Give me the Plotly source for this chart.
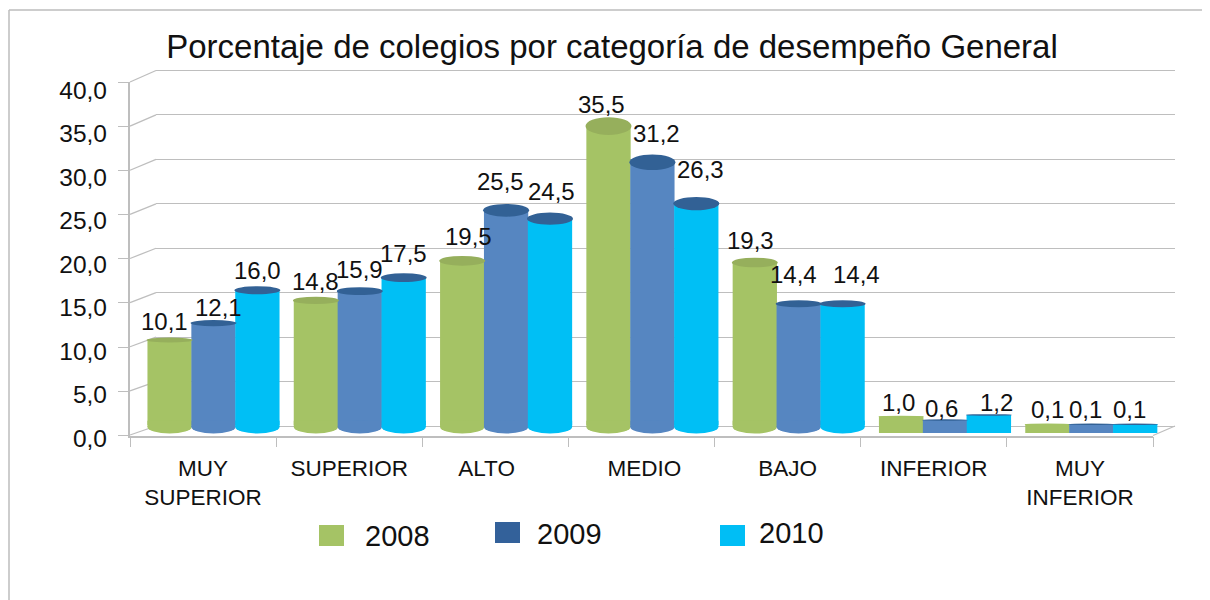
import plotly.graph_objects as go

# --- data ---
CATEGORIES = ["MUY<br>SUPERIOR", "SUPERIOR", "ALTO", "MEDIO", "BAJO", "INFERIOR", "MUY<br>INFERIOR"]
SERIES = ["2008", "2009", "2010"]
V2008 = [10.1, 14.8, 19.5, 35.5, 19.3, 1.0, 0.1]
V2009 = [12.1, 15.9, 25.5, 31.2, 14.4, 0.6, 0.1]
V2010 = [16.0, 17.5, 24.5, 26.3, 14.4, 1.2, 0.1]
Y_TICKS = [0, 5, 10, 15, 20, 25, 30, 35, 40]

# --- styling / layout ---
PAGE_MARGIN = 8          # the browser's default body margin
W, H = 1210 - PAGE_MARGIN, 600 - PAGE_MARGIN
FONT = "Liberation Sans"
INK = "#111111"
GRID = "#BEBEBE"
BODY = ["#A5C365", "#5686C1", "#00BFF5"]
TOP = ["#96AF5C", "#326195", "#326195"]
SWATCH = ["#A5C365", "#33619A", "#00BEF5"]
LEG_BOX = [(319, 525), (495, 522), (720, 525)]
LEG_TXT = [(397, 536), (569, 534), (791, 533)]
LABEL_DX = [[-5, 5, 0], [0, 0, 0], [6, -6, 2], [-7, 4, 4], [-4, -5, 14], [-3, -4, 8], [0, -6, -6]]
LABEL_DY = [[18, 16, 20], [19, 22, 24], [24, 29, 27], [22, 29, 34], [22, 29, 29], [14, 11, 12], [15, 15, 15]]
LABEL_NUDGE = [0, 0, -0.06, 0.02, 0, 0, 0]

def px(x): return (x - PAGE_MARGIN) / W
def py(y): return 1 - (y - PAGE_MARGIN) / H

# bars' coordinate system (full page, linear)
PX_PER_UNIT = 8.42
ZERO_PX = 425
CAT_STEP = 146.3
FIRST_CENTER = 213.5
BAR_STEP = 0.3
BAR_W = 44.3 / CAT_STEP
CAP_W = 46 / CAT_STEP

fig = go.Figure()
shapes, annotations = [], []
values = [V2008, V2009, V2010]

# invisible anchors so each helper axis pair is drawn
for xa, ya in [("x", "y"), ("x2", "y2"), ("x4", "y4")]:
    fig.add_trace(go.Scatter(x=[0], y=[0], xaxis=xa, yaxis=ya, mode="markers",
                             marker=dict(opacity=0), showlegend=False, hoverinfo="skip"))

for s, vals in enumerate(values):
    fig.add_trace(go.Bar(
        x=[i + (s - 1) * BAR_STEP for i in range(len(vals))], y=vals, width=BAR_W,
        name=SERIES[s], marker=dict(color=BODY[s], line=dict(width=0)),
        xaxis="x3", yaxis="y3", showlegend=False,
    ))

for s, vals in enumerate(values):
    for i, v in enumerate(vals):
        cx = i + (s - 1) * BAR_STEP
        if v >= 5:
            shapes.append(dict(type="circle", xref="x3", yref="y3", layer="above",
                               x0=cx - BAR_W / 2, x1=cx + BAR_W / 2,
                               y0=-0.24 - 6.5 / PX_PER_UNIT, y1=-0.24 + 6.5 / PX_PER_UNIT,
                               fillcolor=BODY[s], line=dict(width=0)))
            shapes.append(dict(type="rect", xref="x3", yref="y3", layer="above",
                               x0=cx - BAR_W / 2, x1=cx + BAR_W / 2, y0=-0.24, y1=0.5,
                               fillcolor=BODY[s], line=dict(width=0)))
        else:
            shapes.append(dict(type="rect", xref="x3", yref="y3", layer="above",
                               x0=cx - BAR_W / 2, x1=cx + BAR_W / 2, y0=-8 / PX_PER_UNIT, y1=v,
                               fillcolor=BODY[s], line=dict(width=0)))
for s, vals in enumerate(values):
    for i, v in enumerate(vals):
        cx = i + (s - 1) * BAR_STEP
        h = max(0.5 * v, 1.5) / PX_PER_UNIT
        shapes.append(dict(type="circle", xref="x3", yref="y3", layer="above",
                           x0=cx - CAP_W / 2, x1=cx + CAP_W / 2, y0=v - h / 2, y1=v + h / 2,
                           fillcolor=TOP[s] if v >= 2 or s else BODY[s], line=dict(width=0)))
        annotations.append(dict(
            x=cx, y=v, xref="x3", yref="y3", xshift=LABEL_DX[i][s], yshift=LABEL_DY[i][s],
            text=f"{v:.1f}".replace(".", ","), showarrow=False,
            font=dict(family=FONT, size=24, color=INK)))

# perspective connectors between front axis and back wall
FRONT_Y = lambda t: 435 - (435 - 82) * t / 40
BACK_Y = lambda t: 426 - (426 - 70.5) * t / 40
for t in Y_TICKS:
    shapes.append(dict(type="line", xref="paper", yref="paper", layer="below",
                       x0=px(130), x1=px(156), y0=py(FRONT_Y(t)), y1=py(BACK_Y(t)),
                       line=dict(color=GRID, width=1.3)))
shapes.append(dict(type="line", xref="paper", yref="paper", layer="below",
                   x0=px(1153), x1=px(1175), y0=py(435.5), y1=py(426),
                   line=dict(color=GRID, width=1.3)))

# page frame
shapes.append(dict(type="line", xref="paper", yref="paper", x0=px(9), x1=1, y0=py(10), y1=py(10),
                   line=dict(color="#BDBDBD", width=1.5)))
shapes.append(dict(type="line", xref="paper", yref="paper", x0=px(9), x1=px(9), y0=py(10), y1=0,
                   line=dict(color="#BDBDBD", width=1.5)))

# legend
for k, name in enumerate(SERIES):
    x0, y0 = LEG_BOX[k]
    shapes.append(dict(type="rect", xref="paper", yref="paper", x0=px(x0), x1=px(x0 + 25),
                       y0=py(y0), y1=py(y0 + 21), fillcolor=SWATCH[k], line=dict(width=0)))
    tx, ty = LEG_TXT[k]
    annotations.append(dict(x=px(tx), y=py(ty), xref="paper", yref="paper", text=name, showarrow=False,
                            xanchor="center", yanchor="middle",
                            font=dict(family=FONT, size=29, color=INK)))

BACK_UNIT = (426 - 70.5) / 40
fig.update_layout(
    template="none",
    width=W, height=H, margin=dict(l=0, r=0, t=0, b=0),
    paper_bgcolor="white", plot_bgcolor="rgba(0,0,0,0)",
    barmode="overlay", separators=",.", showlegend=False,
    title=dict(text="Porcentaje de colegios por categoría de desempeño General",
               x=px(612), y=py(46), xanchor="center", yanchor="middle",
               font=dict(family=FONT, size=33, color=INK)),
    shapes=shapes, annotations=annotations,
    # back wall gridlines
    xaxis=dict(domain=[px(156), px(1175)], range=[0, 1], showticklabels=False, showgrid=False,
               zeroline=False, ticks="", showline=False),
    yaxis=dict(domain=[py(426 + BACK_UNIT), py(70.5 - BACK_UNIT)], range=[-1, 41], tickvals=Y_TICKS,
               showticklabels=False, showgrid=True, gridcolor=GRID, gridwidth=1.3, zeroline=False,
               ticks="", showline=False),
    # front axis lines and tick marks
    xaxis2=dict(domain=[px(130), px(1153)], range=[-0.5, 6.5], anchor="y2",
                tickvals=[i - 0.5 for i in range(8)], showticklabels=False, ticks="outside", ticklen=10,
                tickcolor=GRID, tickwidth=1.3, showline=True, linecolor=GRID, linewidth=1.5,
                showgrid=False, zeroline=False),
    yaxis2=dict(domain=[py(435.5), py(82)], range=[0, 40], anchor="x2", tickvals=Y_TICKS,
                showticklabels=False, ticks="outside", ticklen=10, tickcolor=GRID, tickwidth=1.3,
                showline=True, linecolor=GRID, linewidth=1.5, showgrid=False, zeroline=False),
    # bars
    xaxis3=dict(domain=[0, 1],
                range=[(PAGE_MARGIN - FIRST_CENTER) / CAT_STEP, (1210 - FIRST_CENTER) / CAT_STEP],
                anchor="y3", visible=False),
    yaxis3=dict(domain=[0, 1],
                range=[(ZERO_PX - 600) / PX_PER_UNIT, (ZERO_PX - PAGE_MARGIN) / PX_PER_UNIT],
                anchor="x3", visible=False),
    # tick label axes
    xaxis4=dict(domain=[px(130), px(1153)], range=[-0.5, 6.5], anchor="free", position=py(452),
                tickvals=[i + LABEL_NUDGE[i] for i in range(7)], ticktext=CATEGORIES, ticks="",
                tickfont=dict(family=FONT, size=22.5, color=INK), showgrid=False, zeroline=False,
                showline=False),
    yaxis4=dict(domain=[py(438), py(90)], range=[0, 40], anchor="free", position=px(107),
                tickvals=Y_TICKS, tickformat=".1f", ticks="",
                tickfont=dict(family=FONT, size=24.5, color=INK), showgrid=False, zeroline=False,
                showline=False),
)
fig.data[2].update(xaxis="x4", yaxis="y4")
fig.write_html("out.html")
